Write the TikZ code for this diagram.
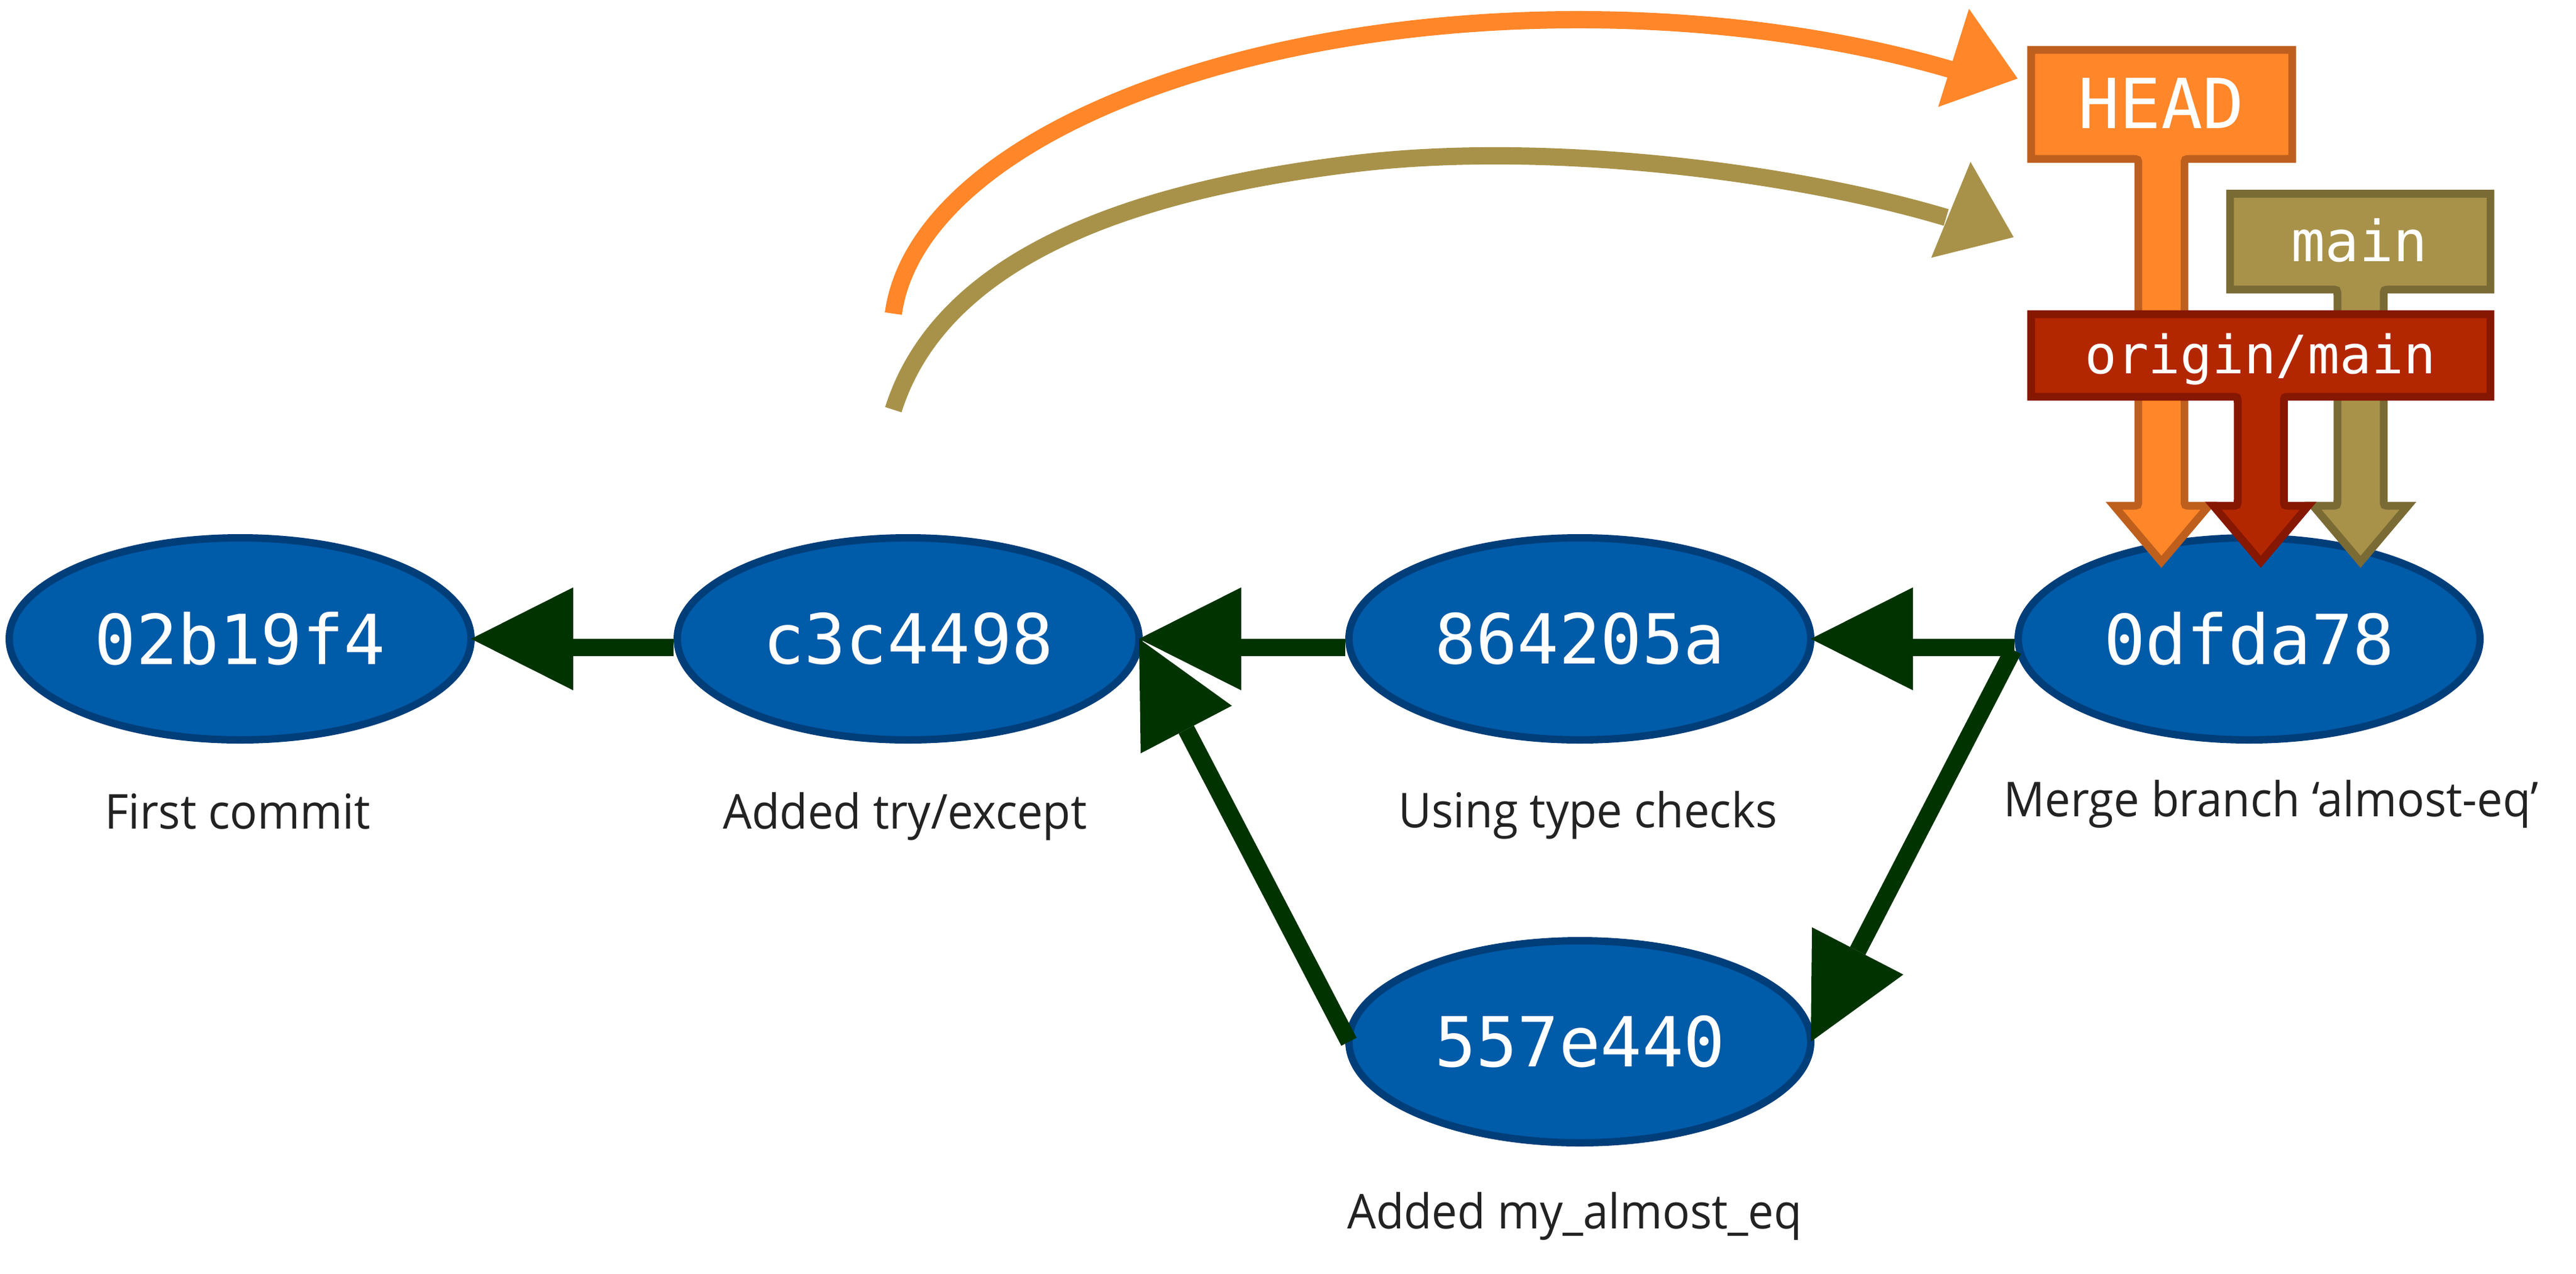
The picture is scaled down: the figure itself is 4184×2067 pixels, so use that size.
\documentclass[tikz,border=0pt]{standalone}
\usepackage{fontspec}
\usetikzlibrary{shapes.geometric,arrows.meta,calc}
\newfontfamily\hashfont{DejaVu Sans Mono}
\newfontfamily\capfont{Open Sans}[FakeStretch=0.95]
\definecolor{nodefill}{RGB}{0,91,168}
\definecolor{nodeline}{RGB}{0,62,122}
\definecolor{conncol}{RGB}{0,51,0}
\definecolor{headfill}{RGB}{255,134,41}
\definecolor{headline}{RGB}{190,95,30}
\definecolor{mainfill}{RGB}{168,146,74}
\definecolor{mainline}{RGB}{122,107,53}
\definecolor{origfill}{RGB}{178,39,0}
\definecolor{origline}{RGB}{134,23,0}
\definecolor{captext}{RGB}{34,34,34}
% L R T B cx style
\newcommand{\tagshape}[6]{%
  \draw[#6] (#1,#3) -- (#2,#3) -- (#2,#4) -- ({#5+47.5},#4)
    .. controls ({#5+37.5},#4) .. ({#5+37.5},{#4+10})
    -- ({#5+37.5},811) .. controls ({#5+37.5},821) .. ({#5+47.5},821)
    -- ({#5+77},821) -- (#5,912) -- ({#5-77},821) -- ({#5-47.5},821)
    .. controls ({#5-37.5},821) .. ({#5-37.5},811)
    -- ({#5-37.5},{#4+10}) .. controls ({#5-37.5},#4) .. ({#5-47.5},#4)
    -- (#1,#4) -- cycle;}
\begin{document}
\begin{tikzpicture}[x=0.25pt,y=-0.25pt,
  commit/.style={ellipse, draw=nodeline, fill=nodefill, line width=3pt,
    minimum width=187.5pt, minimum height=82pt, inner sep=0pt, outer sep=0pt,
    text=white, font=\hashfont\fontsize{28}{28}\selectfont},
  caption/.style={font=\capfont\fontsize{19.5}{19.5}\selectfont, text=captext,
    anchor=base, inner sep=0pt},
  shaft/.style={draw=conncol, line width=7pt},
  tipdiag/.style={-{Triangle[length=41.5pt,width=41.75pt,line width=0pt]}},
  curve/.style={line width=7pt},
  tagtext/.style={text=white, anchor=base, inner sep=0pt},
  tagline/.style={line width=3.15pt, line join=miter}]
\useasboundingbox (0,0) rectangle (4184,2067);
\fill[white] (0,0) rectangle (4184,2067);

% curved arrows toward the labels
\coordinate (os) at (1451,509);
\coordinate (ot) at (3277,127.5);
\draw[curve, draw=headfill] (os) arc[start angle=-176.4, end angle=-57.3, x radius=1116, y radius=509];
\fill[headfill] (ot) -- (3198,14.3) -- (3148,173.5) -- cycle;
\coordinate (ks) at (1451,665);
\coordinate (km) at (2200,265.6);
\coordinate (ke) at (3161,353);
\coordinate (kt) at (3270.6,385);
\draw[curve, draw=mainfill] (ks) .. controls (1535,399) and (1882,304) .. (km)
  .. controls (2517.8,227.2) and (2921.5,281.25) .. (ke);
\fill[mainfill] (kt) -- (3200.5,262.8) -- (3136.7,418.4) -- cycle;

% commits
\node[commit] (c1) at (390,1037) {02b19f4};
\node[commit] (c2) at (1475,1037) {c3c4498};
\node[commit] (c3) at (2566,1037) {864205a};
\node[commit] (c4) at (3653,1037) {0dfda78};
\node[commit] (c5) at (2566,1691) {557e440};

% connectors
\draw[shaft] ($(c2.west)+(-6,14)$) -- ($(c1.east)+(160,14)$);
\fill[conncol] (c1.east) -- ++(166,-83.5) -- ++(0,167) -- cycle;
\draw[shaft] ($(c3.west)+(-6,14)$) -- ($(c2.east)+(160,14)$);
\fill[conncol] (c2.east) -- ++(166,-83.5) -- ++(0,167) -- cycle;
\draw[shaft] ($(c4.west)+(-6,14)$) -- ($(c3.east)+(160,14)$);
\fill[conncol] (c3.east) -- ++(166,-83.5) -- ++(0,167) -- cycle;
\draw[shaft, tipdiag] (c5.west) -- (c2.east);
\draw[shaft, tipdiag] ($(c4.west)+(-8,18)$) -- (c5.east);

% labels
\tagshape{3299}{3723}{81}{258}{3510.6}{tagline, draw=headline, fill=headfill}
\tagshape{3622}{4045}{314.5}{470}{3834}{tagline, draw=mainline, fill=mainfill}
\tagshape{3299}{4045}{510}{644}{3672}{tagline, draw=origline, fill=origfill}
\node[tagtext, font=\hashfont\fontsize{28}{28}\selectfont] (lhead) at (3510,208.5) {HEAD};
\node[tagtext, font=\hashfont\fontsize{23}{23}\selectfont] (lmain) at (3832,424) {main};
\node[tagtext, font=\hashfont\fontsize{21.5}{21.5}\selectfont] (lorig) at (3671,606) {origin/main};

% captions
\node[caption] (t1) at (386,1345) {First commit};
\node[caption] (t2) at (1470,1345) {Added try/except};
\node[caption] (t3) at (2579,1343) {Using type checks};
\node[caption] (t4) at (3689,1325) {Merge branch ‘almost-eq’};
\node[caption] (t5) at (2557.5,1994) {Added my\_almost\_eq};
\end{tikzpicture}
\end{document}
